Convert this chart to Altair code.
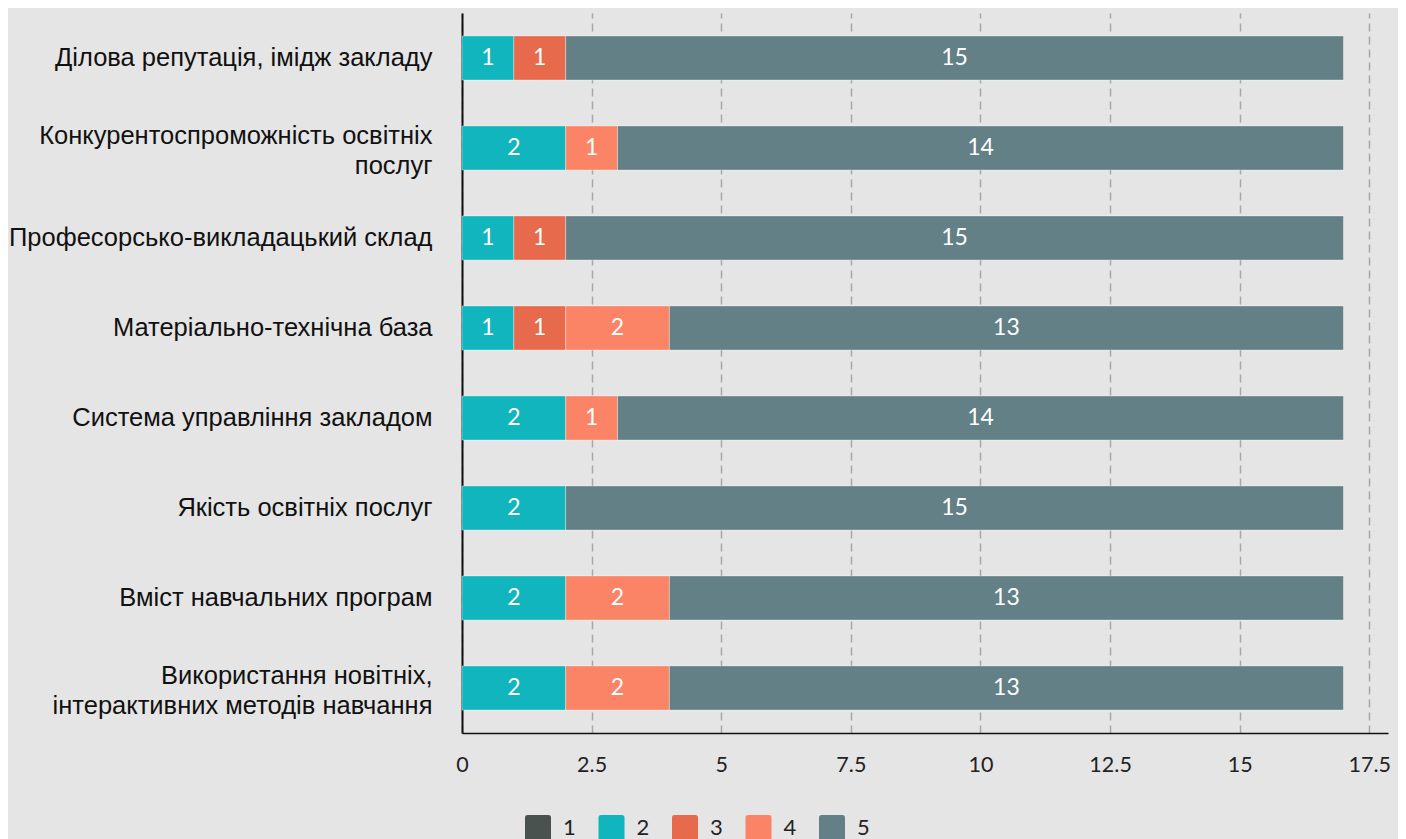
import altair as alt
import pandas as pd

categories = [
    "Ділова репутація, імідж закладу",
    "Конкурентоспроможність освітніх|послуг",
    "Професорсько-викладацький склад",
    "Матеріально-технічна база",
    "Система управління закладом",
    "Якість освітніх послуг",
    "Вміст навчальних програм",
    "Використання новітніх,|інтерактивних методів навчання",
]
score_labels = ["1", "2", "3", "4", "5"]
score_1 = [0, 0, 0, 0, 0, 0, 0, 0]
score_2 = [1, 2, 1, 1, 2, 2, 2, 2]
score_3 = [1, 0, 1, 1, 0, 0, 0, 0]
score_4 = [0, 1, 0, 2, 1, 0, 2, 2]
score_5 = [15, 14, 15, 13, 14, 15, 13, 13]
colors = ["#4a5250", "#10b5bd", "#e76a4c", "#fb8466", "#628085"]
x_ticks = [0, 2.5, 5, 7.5, 10, 12.5, 15, 17.5]

rows = []
for i, c in enumerate(categories):
    for s, arr in zip(score_labels, [score_1, score_2, score_3, score_4, score_5]):
        if arr[i] > 0:
            rows.append({"cat": c, "score": s, "value": arr[i], "order": int(s)})
df = pd.DataFrame(rows)

base = alt.Chart(df).transform_stack(
    stack="value", groupby=["cat"], as_=["x0", "x1"],
    sort=[alt.SortField("order", order="ascending")]
).transform_calculate(xm="(datum.x0 + datum.x1) / 2")

xscale = alt.Scale(domain=[0, 17.86], nice=False, zero=True)
yscale = alt.Scale(paddingInner=0.51, paddingOuter=0.255)

rounded = "M-1,-0.8Q-1,-1,-0.8,-1L0.8,-1Q1,-1,1,-0.8L1,0.8Q1,1,0.8,1L-0.8,1Q-1,1,-1,0.8Z"

bars = base.mark_bar(stroke="#ffffff", strokeOpacity=0.35, strokeWidth=1).encode(
    x=alt.X("x0:Q", scale=xscale, title=None,
            axis=alt.Axis(values=x_ticks, format=".1~f", grid=True, gridDash=[8, 5],
                          gridColor="#a8a8a8", gridWidth=1.5, ticks=False,
                          domainColor="#111111", domainWidth=1.5,
                          labelFont="Lato", labelFontSize=21.5, labelColor="#222222",
                          labelPadding=21, labelFlush=False)),
    x2="x1:Q",
    y=alt.Y("cat:N", sort=categories, scale=yscale, title=None,
            axis=alt.Axis(ticks=False, domainColor="#111111", domainWidth=2, grid=False,
                          labelFont="Liberation Sans", labelFontSize=25.5, labelColor="#111111",
                          labelPadding=30, labelLimit=600, labelLineHeight=30,
                          labelOffset={"condition": {"test": "indexof(datum.value, '|') >= 0",
                                                     "value": -12}, "value": 0},
                          labelExpr="split(datum.label, '|')")),
    color=alt.Color("score:N", scale=alt.Scale(domain=score_labels, range=colors),
                    legend=alt.Legend(title=None, orient="none", legendX=63, legendY=802,
                                      direction="horizontal", symbolType=rounded,
                                      symbolSize=676, symbolStrokeWidth=0, symbolOpacity=1,
                                      labelFont="Lato", labelFontSize=22, labelColor="#222222",
                                      labelOffset=12, columnPadding=22.5)),
)

labels = base.mark_text(color="white", font="Lato", fontSize=23, align="center",
                        baseline="middle").encode(
    x=alt.X("xm:Q", scale=xscale),
    y=alt.Y("cat:N", sort=categories, scale=yscale),
    text="value:Q",
)

chart = alt.layer(bars, labels).properties(
    width=926, height=720,
    autosize=alt.AutoSizeParams(type="none"),
    padding={"left": 454, "top": 5, "right": 10, "bottom": 110},
    background="#e5e5e5",
).configure_view(stroke=None)

chart.save("out.html", embed_options={"renderer": "svg", "actions": False})
